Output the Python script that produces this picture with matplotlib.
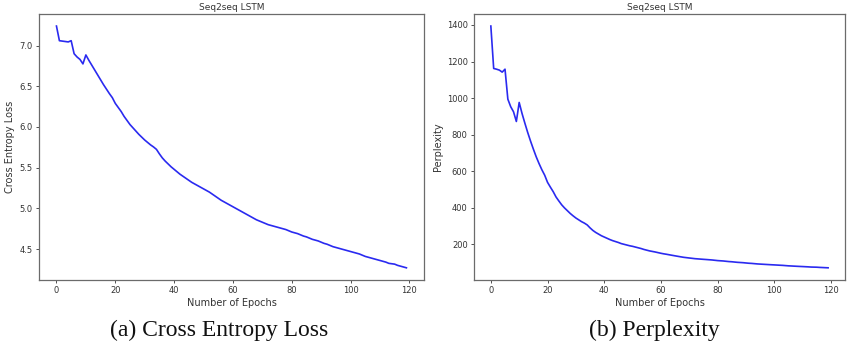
import matplotlib
matplotlib.use("Agg")
import matplotlib.pyplot as plt

epochs = list(range(120))

loss = [
    7.24, 7.06, 7.055, 7.05, 7.045, 7.06, 6.90, 6.86, 6.83, 6.775,
    6.885, 6.82, 6.76, 6.70, 6.64, 6.58, 6.52, 6.465, 6.41, 6.36,
    6.29, 6.24, 6.19, 6.13, 6.08, 6.03, 5.99, 5.95, 5.91, 5.875,
    5.84, 5.81, 5.78, 5.755, 5.725, 5.67, 5.62, 5.58, 5.545, 5.51,
    5.48, 5.45, 5.42, 5.395, 5.37, 5.345, 5.32, 5.30, 5.28, 5.26,
    5.24, 5.22, 5.20, 5.175, 5.15, 5.125, 5.10, 5.08, 5.06, 5.04,
    5.02, 5.00, 4.98, 4.96, 4.94, 4.92, 4.90, 4.88, 4.86, 4.845,
    4.83, 4.815, 4.80, 4.79, 4.78, 4.77, 4.76, 4.75, 4.74, 4.725,
    4.71, 4.70, 4.69, 4.675, 4.66, 4.65, 4.635, 4.62, 4.61, 4.60,
    4.585, 4.57, 4.56, 4.545, 4.53, 4.52, 4.51, 4.50, 4.49, 4.48,
    4.47, 4.46, 4.45, 4.44, 4.425, 4.41, 4.40, 4.39, 4.38, 4.37,
    4.36, 4.35, 4.34, 4.325, 4.32, 4.315, 4.30, 4.29, 4.28, 4.27,
]

perplexity = [
    1394, 1162, 1158, 1153, 1142, 1158, 994, 953, 925, 872,
    976, 916, 863, 812, 765, 721, 679, 642, 608, 578,
    539, 513, 488, 459, 437, 416, 399, 384, 369, 356,
    344, 334, 324, 316, 306, 290, 276, 265, 256, 247,
    240, 233, 226, 220, 215, 210, 204, 200, 196, 192,
    189, 185, 181, 177, 172, 168, 164, 161, 158, 154.5,
    151, 148, 145.5, 142.6, 139.8, 137, 134.3, 131.6, 129, 127.1,
    125.2, 123.4, 121.5, 120.3, 119.1, 117.9, 116.8, 115.6, 114.4, 112.7,
    111.0, 109.9, 108.9, 107.2, 105.6, 104.6, 103.0, 101.5, 100.5, 99.5,
    98.0, 96.5, 95.6, 94.2, 92.8, 91.8, 90.9, 90.0, 89.1, 88.2,
    87.4, 86.5, 85.6, 84.8, 83.5, 82.3, 81.5, 80.6, 79.8, 79.0,
    78.3, 77.5, 76.7, 75.6, 75.2, 74.8, 73.7, 73.0, 72.2, 71.5,
]

LINE = "#2a2af0"
SPINE = "#6b6b6b"
TXT = "#333333"

fig = plt.figure(figsize=(8.47, 3.49), dpi=100)
fig.patch.set_facecolor("white")

ax1 = fig.add_axes([0.046, 0.198, 0.4545, 0.762])
ax2 = fig.add_axes([0.5596, 0.198, 0.438, 0.762])

panels = [
    (ax1, loss, "Cross Entropy Loss", [4.5, 5.0, 5.5, 6.0, 6.5, 7.0]),
    (ax2, perplexity, "Perplexity", [200, 400, 600, 800, 1000, 1200, 1400]),
]
for ax, vals, ylab, yt in panels:
    ax.plot(epochs, vals, color=LINE, lw=1.2)
    ax.set_xticks([0, 20, 40, 60, 80, 100, 120])
    ax.set_yticks(yt)
    ax.set_title("Seq2seq LSTM", fontsize=6.5, color=TXT, pad=3)
    ax.set_xlabel("Number of Epochs", fontsize=7, color=TXT, labelpad=2)
    ax.set_ylabel(ylab, fontsize=7, color=TXT, labelpad=3)
    ax.tick_params(labelsize=6, colors=TXT, length=2.5, width=0.6, pad=2)
    for sp in ax.spines.values():
        sp.set_color(SPINE)
        sp.set_linewidth(0.9)

# sub-figure captions under each panel
fig.text(0.259, 0.052, "(a) Cross Entropy Loss", ha="center", va="center",
         fontsize=17, family="Liberation Serif", color="#111111")
fig.text(0.772, 0.052, "(b) Perplexity", ha="center", va="center",
         fontsize=17, family="Liberation Serif", color="#111111")

fig.savefig("out.png", dpi=100, facecolor="white")
